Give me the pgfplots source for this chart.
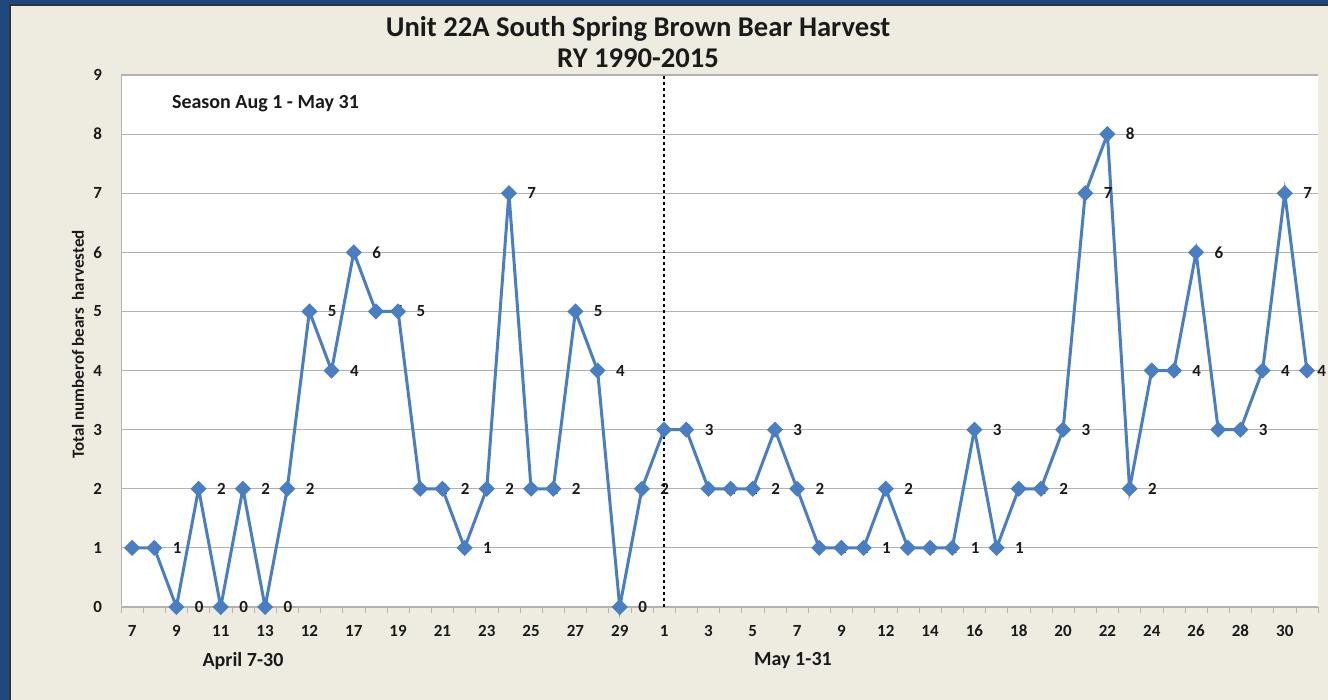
\documentclass[border=0pt]{standalone}
\usepackage{fontspec}
\setmainfont{Carlito}
\usepackage{pgfplots}
\pgfplotsset{compat=1.18}
\definecolor{frameblue}{HTML}{1F497D}
\definecolor{chartbg}{HTML}{EEECE1}
\definecolor{seriesblue}{HTML}{4A7EC2}
\definecolor{gridgray}{HTML}{B2B2B2}
\definecolor{txt}{HTML}{1A1A1A}

\newcommand{\lbl}{\fontsize{8.5}{10}\selectfont\bfseries}

\begin{document}
\begin{tikzpicture}[x=1pt,y=1pt]
  \clip (0,0) rectangle (664,350);
  \fill[frameblue] (0,0) rectangle (664,350);
  \fill[chartbg] (5,0) rectangle (664,347.5);
  \draw[black!80, line width=0.6pt] (5,0) -- (5,347.5) -- (664,347.5);

  % titles and free text
  \node[font=\fontsize{14.3}{16}\selectfont\bfseries, text=txt] at (319,335.5) {Unit 22A South Spring Brown Bear Harvest};
  \node[font=\fontsize{14.3}{16}\selectfont\bfseries, text=txt] at (319,321) {RY 1990-2015};
  \node[font=\lbl, text=txt, rotate=90] at (39,177.75) {Total numberof bears\ \ harvested};
  \node[font=\fontsize{10}{12}\selectfont\bfseries, text=txt] at (121.5,19.5) {April 7-30};
  \node[font=\fontsize{10}{12}\selectfont\bfseries, text=txt] at (396.5,19.5) {May 1-31};

  \begin{axis}[
      at={(60.5pt,46.5pt)}, anchor=south west,
      scale only axis, width=598.5pt, height=266pt,
      xmin=-0.5, xmax=53.5, ymin=0, ymax=9,
      clip=false,
      axis background/.style={fill=white},
      axis x line*=bottom, axis y line*=left,
      axis line style={gridgray, -},
      ymajorgrids, grid style={gridgray, line width=0.6pt},
      ytick={0,1,...,9},
      xtick={0,2,...,52},
      xticklabels={7,9,11,13,12,17,19,21,23,25,27,29,1,3,5,7,9,12,14,16,18,20,22,24,26,28,30},
      minor xtick={-0.5,0.5,...,53.5},
      major tick length=0pt, minor tick length=3pt,
      tick align=outside,
      minor tick style={gridgray},
      /pgf/number format/assume math mode=true,
      tick label style={font=\lbl, text=txt},
      yticklabel style={xshift=-6pt},
      xticklabel style={yshift=-5.5pt},
    ]
    \addplot[seriesblue, line width=1.5pt, mark=square*,
      mark size=2.1pt, mark options={rotate=45, fill=seriesblue, draw=seriesblue},
      visualization depends on={x \as \xv},
      nodes near coords,
      every node near coord/.append style={anchor=west,
        xshift={(\xv>52.5) ? 4.5pt : 8.5pt}, inner sep=0pt, font=\lbl, text=txt}]
      coordinates {
        (0,1) (1,1) (2,0) (3,2) (4,0) (5,2) (6,0) (7,2) (8,5) (9,4)
        (10,6) (11,5) (12,5) (13,2) (14,2) (15,1) (16,2) (17,7) (18,2) (19,2)
        (20,5) (21,4) (22,0) (23,2)
        (24,3) (25,3) (26,2) (27,2) (28,2) (29,3) (30,2) (31,1) (32,1) (33,1)
        (34,2) (35,1) (36,1) (37,1) (38,3) (39,1) (40,2) (41,2) (42,3) (43,7)
        (44,8) (45,2) (46,4) (47,4) (48,6) (49,3) (50,3) (51,4) (52,7) (53,4)
      };
    \addplot[black, line width=0.6pt, dash pattern=on 1.5pt off 1.5pt, forget plot]
      coordinates {(24,0) (24,9)};
  \end{axis}
  \node[font=\fontsize{10}{12}\selectfont\bfseries, text=txt, anchor=west] at (82.5,298) {Season Aug 1 - May 31};
\end{tikzpicture}
\end{document}
